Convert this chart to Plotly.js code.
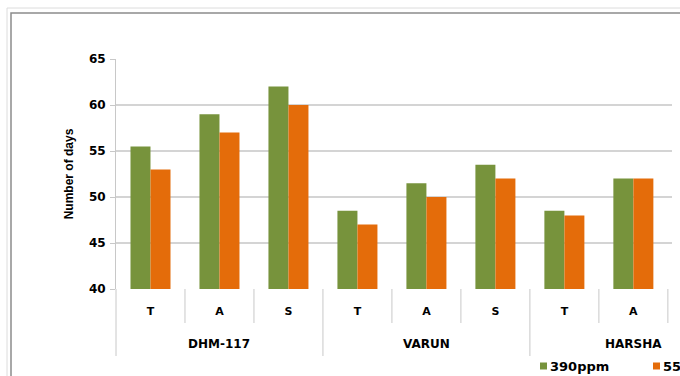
<!DOCTYPE html>
<html>
<head>
<meta charset="utf-8">
<script src="https://cdn.plot.ly/plotly-3.0.1.min.js"></script>
<style>html,body{margin:0;padding:0;background:#fff;}#chart{width:680px;height:376px;}</style>
</head>
<body>
<div id="chart"></div>
<script>
var varieties = ["DHM-117", "VARUN", "HARSHA"];
var stages = ["T", "A", "S"];
var categoryStages = ["T","A","S","T","A","S","T","A","S"];
var categoryVariety = ["DHM-117","DHM-117","DHM-117","VARUN","VARUN","VARUN","HARSHA","HARSHA","HARSHA"];
var seriesNames = ["390ppm", "550ppm"];
var ppm390 = [55.5, 59, 62, 48.5, 51.5, 53.5, 48.5, 52, null];
var ppm550 = [53, 57, 60, 47, 50, 52, 48, 52, null];
var yTicks = [40, 45, 50, 55, 60, 65];
var colors = ["#77933C", "#E46C0A"];

var W = 680, H = 376, L = 116, R = 8, T = 59, B = 87;
var pw = W - L - R, ph = H - T - B;
function px(x){ return (x - L) / pw; }
function py(y){ return (H - B - y) / ph; }

var xIdx = categoryStages.map(function(_, i){ return i; });
var xRange = [-0.5, 7.56];
function xPaper(v){ return (v - xRange[0]) / (xRange[1] - xRange[0]); }

var traces = [
  {type: "bar", name: seriesNames[0], x: xIdx, y: ppm390, marker: {color: colors[0]}},
  {type: "bar", name: seriesNames[1], x: xIdx, y: ppm550, marker: {color: colors[1]}}
];

var shapes = [
  {type: "rect", xref: "paper", yref: "paper", x0: px(7), x1: px(720), y0: py(8), y1: py(420),
   line: {color: "#dcdcdc", width: 1}, fillcolor: "rgba(0,0,0,0)", layer: "below"},
  {type: "rect", xref: "paper", yref: "paper", x0: px(11), x1: px(720), y0: py(13), y1: py(420),
   line: {color: "#8c8c8c", width: 1.5}, fillcolor: "rgba(0,0,0,0)", layer: "below"}
];
// category dividers below the axis
for (var i = 0; i <= categoryStages.length; i++) {
  var b = i - 0.5;
  if (b > xRange[1]) break;
  var isGroup = (i === 0) || (i === categoryStages.length) || (categoryVariety[i] !== categoryVariety[i - 1]);
  shapes.push({type: "line", xref: "paper", yref: "paper",
    x0: xPaper(b), x1: xPaper(b), y0: 0, y1: isGroup ? py(356) : py(323),
    line: {color: "#c8c8c8", width: 1}});
}

var annotations = [];
varieties.forEach(function(v){
  var idx = [];
  categoryVariety.forEach(function(c, i){ if (c === v) idx.push(i); });
  var center = (idx[0] + idx[idx.length - 1]) / 2;
  annotations.push({xref: "x", yref: "paper", x: center, y: py(344), text: v, showarrow: false,
    xanchor: "center", yanchor: "middle",
    font: {family: "DejaVu Sans", size: 12, color: "#000", weight: "bold"}});
});

// legend (drawn manually so it can run off the right edge like the reference)
var legendX = [540, 653];
seriesNames.forEach(function(n, k){
  shapes.push({type: "rect", xref: "paper", yref: "paper",
    x0: px(legendX[k]), x1: px(legendX[k] + 7), y0: py(369.5), y1: py(362.5),
    line: {width: 0}, fillcolor: colors[k]});
  annotations.push({xref: "paper", yref: "paper", x: px(legendX[k] + 8), y: py(366),
    text: n, showarrow: false, xanchor: "left", yanchor: "middle",
    font: {family: "DejaVu Sans", size: 13, color: "#000", weight: "bold"}});
});

var layout = {
  width: W, height: H,
  margin: {l: L, r: R, t: T, b: B, pad: 0},
  paper_bgcolor: "#fff", plot_bgcolor: "#fff",
  barmode: "group", bargap: 0.42, bargroupgap: 0,
  showlegend: false,
  xaxis: {
    range: xRange, autorange: false,
    tickvals: xIdx, ticktext: categoryStages,
    showgrid: false, zeroline: false, showline: false, ticks: "",
    ticklabelstandoff: 14,
    tickfont: {family: "DejaVu Sans", size: 11, color: "#000", weight: "bold"}
  },
  yaxis: {
    range: [40, 65], autorange: false,
    tickvals: yTicks, ticktext: yTicks.map(String),
    showgrid: true, gridcolor: "#d4d4d4", gridwidth: 1.5,
    zeroline: false,
    showline: true, linecolor: "#c8c8c8", linewidth: 1,
    ticks: "outside", ticklen: 5, tickcolor: "#c8c8c8",
    ticklabelstandoff: 2,
    tickfont: {family: "DejaVu Sans", size: 12, color: "#000", weight: "bold"},
    title: {text: "Number of days", standoff: 12,
            font: {family: "Liberation Sans Narrow, Liberation Sans", size: 12, color: "#000", weight: "bold"}}
  },
  shapes: shapes,
  annotations: annotations
};

Plotly.newPlot("chart", traces, layout, {displayModeBar: false, staticPlot: true});
</script>
</body>
</html>
